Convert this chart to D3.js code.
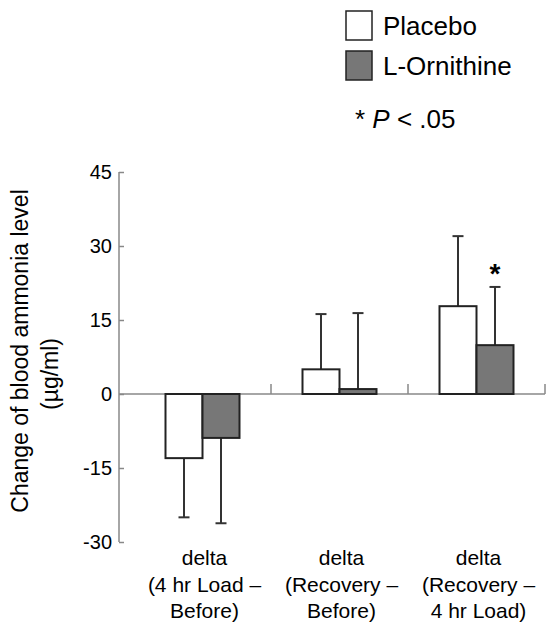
<!DOCTYPE html>
<html lang="en">
<head>
    <meta charset="UTF-8">
    <title>Change of blood ammonia level</title>
    <style>
        body { margin: 0; background: #fff; }
        svg { display: block; font-family: "Liberation Sans", Arial, Helvetica, sans-serif; }
    </style>
</head>
<body>
    <div id="chart"></div>
    <script src="https://d3js.org/d3.v7.min.js"></script>
    <script>
// data
const categories = ["g1", "g2", "g3"];
const categoryLabels = [
    ["delta", "(4 hr Load \u2013", "Before)"],
    ["delta", "(Recovery \u2013", "Before)"],
    ["delta", "(Recovery \u2013", "4 hr Load)"]
];
const groups = ["Placebo", "L-Ornithine"];
const placeboMean = [-13.0, 5.0, 17.8];
const placeboSD = [12.0, 11.2, 14.2];
const ornithineMean = [-8.9, 1.0, 9.9];
const ornithineSD = [17.3, 15.4, 11.8];
const significant = [false, false, true]; // L-Ornithine only
const yTicks = [-30, -15, 0, 15, 30, 45];

const width = 553, height = 622;
const svg = d3.select("#chart").append("svg")
    .attr("width", width)
    .attr("height", height);

const y = d3.scaleLinear().domain([-30, 45]).range([542, 172]);
const x = d3.scaleBand().domain(categories).range([134, 545]).paddingInner(0).paddingOuter(0);
const xInner = d3.scaleBand().domain(groups).range([0, 74]);
const barOffset = (x.bandwidth() - 74) / 2;

const fills = { "Placebo": "#fff", "L-Ornithine": "#777" };
const axisColor = "#888";

// y axis
const yAxis = svg.append("g")
    .attr("transform", "translate(119,0)")
    .call(d3.axisRight(y).tickValues(yTicks).tickSize(5).tickFormat(""));
yAxis.select(".domain").attr("stroke", axisColor).attr("stroke-width", 1.5).attr("d", `M0,${y(45)}V${y(-30)}`);
yAxis.selectAll(".tick line").attr("stroke", axisColor).attr("stroke-width", 1.5);

svg.append("g").selectAll("text")
    .data(yTicks)
    .enter().append("text")
    .attr("x", 112)
    .attr("y", d => y(d))
    .attr("dy", "0.36em")
    .attr("text-anchor", "end")
    .attr("font-size", 20)
    .text(d => d);

// zero line with category separators
svg.append("line")
    .attr("x1", 119).attr("x2", 545)
    .attr("y1", y(0)).attr("y2", y(0))
    .attr("stroke", axisColor).attr("stroke-width", 1.5);

svg.append("g").selectAll("line")
    .data(categories)
    .enter().append("line")
    .attr("x1", d => x(d) + x.bandwidth())
    .attr("x2", d => x(d) + x.bandwidth())
    .attr("y1", y(0))
    .attr("y2", y(0) - 10)
    .attr("stroke", axisColor).attr("stroke-width", 1.5);

// y title
svg.append("text")
    .attr("transform", `translate(28,351) rotate(-90)`)
    .attr("text-anchor", "middle")
    .attr("font-size", 23)
    .text("Change of blood ammonia level");
svg.append("text")
    .attr("transform", `translate(58,374) rotate(-90)`)
    .attr("text-anchor", "middle")
    .attr("font-size", 23)
    .text("(\u00b5g/ml)");

// bars
const rows = [];
categories.forEach((c, i) => {
    rows.push({ cat: c, group: "Placebo", mean: placeboMean[i], sd: placeboSD[i], sig: false });
    rows.push({ cat: c, group: "L-Ornithine", mean: ornithineMean[i], sd: ornithineSD[i], sig: significant[i] });
});
const bx = d => x(d.cat) + barOffset + xInner(d.group);
const cx = d => bx(d) + xInner.bandwidth() / 2;
const tip = d => d.mean >= 0 ? d.mean + d.sd : d.mean - d.sd;

// error bars (drawn first so bars cover the stem)
const err = svg.append("g").attr("stroke", "#333").attr("stroke-width", 2);
err.selectAll(".stem")
    .data(rows)
    .enter().append("line")
    .attr("x1", cx).attr("x2", cx)
    .attr("y1", d => y(d.mean))
    .attr("y2", d => y(tip(d)));
err.selectAll(".cap")
    .data(rows)
    .enter().append("line")
    .attr("x1", d => cx(d) - 5.5).attr("x2", d => cx(d) + 5.5)
    .attr("y1", d => y(tip(d)))
    .attr("y2", d => y(tip(d)));

svg.append("g").selectAll("rect")
    .data(rows)
    .enter().append("rect")
    .attr("x", bx)
    .attr("width", xInner.bandwidth())
    .attr("y", d => y(Math.max(0, d.mean)))
    .attr("height", d => Math.abs(y(d.mean) - y(0)))
    .attr("fill", d => fills[d.group])
    .attr("stroke", "#222")
    .attr("stroke-width", 2);

svg.append("g").selectAll("text")
    .data(rows.filter(d => d.sig))
    .enter().append("text")
    .attr("x", cx)
    .attr("y", d => y(tip(d)) - 4)
    .attr("text-anchor", "middle")
    .attr("font-size", 28)
    .attr("font-weight", "bold")
    .text("*");

// category labels
const labels = svg.append("g").selectAll("text")
    .data(categories)
    .enter().append("text")
    .attr("text-anchor", "middle")
    .attr("font-size", 21);
labels.selectAll("tspan")
    .data((d, i) => categoryLabels[i].map(t => ({ t, c: d })))
    .enter().append("tspan")
    .attr("x", d => x(d.c) + x.bandwidth() / 2 + 2)
    .attr("y", (d, j) => 565 + j * 26.5)
    .text(d => d.t);

// legend
const legend = svg.append("g").attr("transform", "translate(346,11)");
groups.forEach((g, i) => {
    legend.append("rect")
        .attr("x", 0).attr("y", i * 40)
        .attr("width", 26).attr("height", 29)
        .attr("fill", fills[g])
        .attr("stroke", "#222")
        .attr("stroke-width", 1.5);
    legend.append("text")
        .attr("x", 37).attr("y", i * 40 + 24)
        .attr("font-size", 26)
        .text(g);
});
const pText = svg.append("text")
    .attr("x", 355).attr("y", 128)
    .attr("font-size", 26);
pText.append("tspan").text("* ");
pText.append("tspan").attr("font-style", "italic").text("P");
pText.append("tspan").text(" < .05");
    </script>
</body>
</html>
